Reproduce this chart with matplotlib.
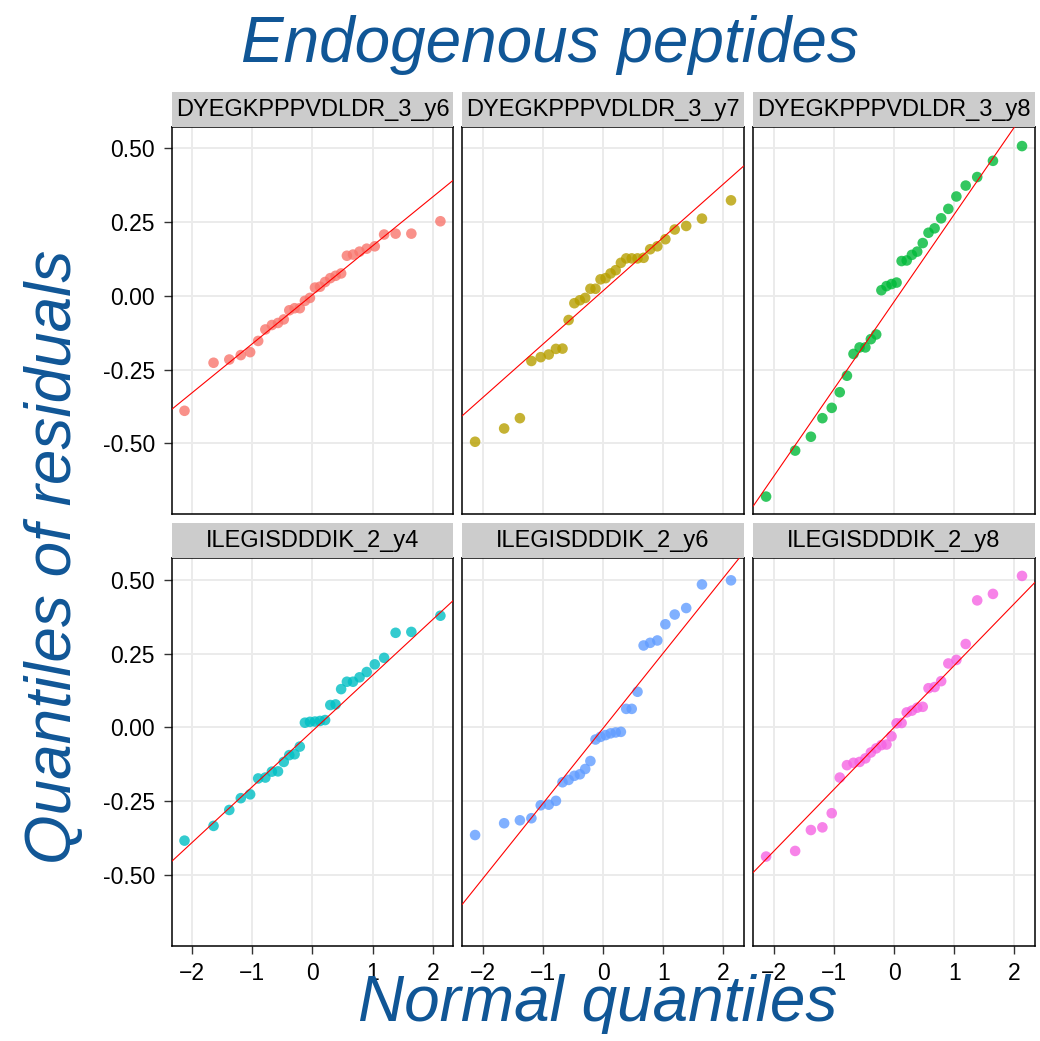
#!/usr/bin/env python

from statistics import NormalDist
import numpy as np
import matplotlib
matplotlib.use('Agg')
import matplotlib.pyplot as plt
import matplotlib.ticker as ticker

plt.rcParams['font.family'] = ['Liberation Sans', 'DejaVu Sans']

# residual quantiles per transition (sorted), 30 runs each
transitions = ['DYEGKPPPVDLDR_3_y6', 'DYEGKPPPVDLDR_3_y7', 'DYEGKPPPVDLDR_3_y8',
               'ILEGISDDDIK_2_y4', 'ILEGISDDDIK_2_y6', 'ILEGISDDDIK_2_y8']

dyeg_y6 = [-0.390, -0.227, -0.216, -0.201, -0.191, -0.153, -0.114, -0.099,
           -0.092, -0.080, -0.049, -0.042, -0.042, -0.017, -0.007, 0.028,
           0.031, 0.047, 0.060, 0.068, 0.076, 0.136, 0.140, 0.150, 0.160,
           0.168, 0.208, 0.211, 0.211, 0.253]
dyeg_y7 = [-0.495, -0.450, -0.415, -0.221, -0.208, -0.199, -0.180, -0.179,
           -0.082, -0.025, -0.015, -0.007, 0.024, 0.024, 0.056, 0.060,
           0.076, 0.087, 0.112, 0.127, 0.127, 0.127, 0.129, 0.158, 0.168,
           0.192, 0.225, 0.237, 0.262, 0.324]
dyeg_y8 = [-0.681, -0.525, -0.478, -0.415, -0.380, -0.327, -0.271, -0.197,
           -0.175, -0.175, -0.147, -0.131, 0.019, 0.033, 0.040, 0.045,
           0.118, 0.120, 0.139, 0.150, 0.179, 0.214, 0.229, 0.263, 0.295,
           0.337, 0.374, 0.403, 0.458, 0.508]
ileg_y4 = [-0.384, -0.334, -0.280, -0.240, -0.227, -0.173, -0.170, -0.150,
           -0.149, -0.117, -0.094, -0.091, -0.065, 0.016, 0.019, 0.020,
           0.022, 0.025, 0.076, 0.078, 0.130, 0.155, 0.155, 0.170, 0.188,
           0.214, 0.236, 0.321, 0.324, 0.379]
ileg_y6 = [-0.365, -0.325, -0.315, -0.308, -0.264, -0.262, -0.249, -0.186,
           -0.178, -0.164, -0.159, -0.141, -0.114, -0.041, -0.032, -0.026,
           -0.020, -0.017, -0.015, 0.063, 0.063, 0.121, 0.278, 0.287, 0.295,
           0.350, 0.383, 0.405, 0.485, 0.499]
ileg_y8 = [-0.438, -0.419, -0.348, -0.339, -0.291, -0.170, -0.128, -0.120,
           -0.117, -0.105, -0.085, -0.071, -0.060, -0.058, -0.030, 0.014,
           0.015, 0.051, 0.057, 0.067, 0.070, 0.133, 0.137, 0.157, 0.217,
           0.229, 0.283, 0.431, 0.453, 0.514]

# reference lines (intercept, slope) for each panel
line_intercepts = [0.0035, 0.017, -0.020, -0.012, -0.003, 0.000]
line_slopes = [0.166, 0.181, 0.296, 0.189, 0.255, 0.210]

colors = ['#F8766D', '#B79F00', '#00BA38', '#00BFC4', '#619CFF', '#F564E3']
x_ticks = [-2, -1, 0, 1, 2]
y_ticks = [-0.50, -0.25, 0.00, 0.25, 0.50]

samples = [dyeg_y6, dyeg_y7, dyeg_y8, ileg_y4, ileg_y6, ileg_y8]

title_blue = '#105696'
W, H = 1040, 1041


def normal_quantiles(n):
    a = 3.0 / 8 if n <= 10 else 0.5
    nd = NormalDist()
    return np.array([nd.inv_cdf((i - a) / (n + 1 - 2 * a))
                     for i in range(1, n + 1)])


def px_box(left, top, width, height):
    return [left / W, 1 - (top + height) / H, width / W, height / H]


def expanded(lo, hi, frac=0.05):
    pad = (hi - lo) * frac
    return lo - pad, hi + pad


fig = plt.figure(figsize=(W / 100.0, H / 100.0), dpi=100)

col_left = [171.7, 462.3, 753.3]
row_top = [126.7, 558.3]
panel_w, panel_h, strip_h = 281.5, 387.5, 35

all_x = np.concatenate([normal_quantiles(len(s)) for s in samples])
all_y = np.concatenate(samples)
xlim = expanded(all_x.min(), all_x.max())
ylim = expanded(all_y.min(), all_y.max())

for k, (name, ys) in enumerate(zip(transitions, samples)):
    r, c = divmod(k, 3)
    ax = fig.add_axes(px_box(col_left[c], row_top[r], panel_w, panel_h))
    xs = normal_quantiles(len(ys))

    ax.set_axisbelow(True)
    ax.grid(True, color='#EBEBEB', linewidth=1.4)
    ax.scatter(xs, ys, s=58, color=colors[k], alpha=0.8,
               edgecolors='none', zorder=2)
    ax.axline((0, line_intercepts[k]), slope=line_slopes[k],
              color='red', linewidth=0.8, zorder=3)

    ax.set_xlim(*xlim)
    ax.set_ylim(*ylim)
    ax.set_xticks(x_ticks)
    ax.set_yticks(y_ticks)
    ax.yaxis.set_major_formatter(ticker.FuncFormatter(lambda v, p: '%.2f' % v))
    ax.tick_params(length=6, width=1.0, color='#333333', pad=6,
                   labelsize=16.5, labelcolor='black')
    if c != 0:
        ax.tick_params(axis='y', length=0, labelleft=False)
    if r == 0:
        ax.tick_params(axis='x', length=0, labelbottom=False)
    for sp in ax.spines.values():
        sp.set_color('black')
        sp.set_linewidth(1.1)

    # facet strip
    sax = fig.add_axes(px_box(col_left[c], row_top[r] - strip_h,
                              panel_w, strip_h))
    sax.set_facecolor('#CCCCCC')
    sax.set_xticks([])
    sax.set_yticks([])
    for sp in sax.spines.values():
        sp.set_visible(False)
    sax.text(0.5, 0.48, name, ha='center', va='center', fontsize=17,
             color='black', transform=sax.transAxes)

fig.text(550 / W, 1 - 62 / H, 'Endogenous peptides', ha='center',
         va='baseline', fontsize=46, style='italic', color=title_blue)
fig.text(598 / W, 1 - 1021 / H, 'Normal quantiles', ha='center',
         va='baseline', fontsize=46, style='italic', color=title_blue)
fig.text(54 / W, 1 - 557 / H, 'Quantiles of residuals', ha='center',
         va='center', rotation=90, fontsize=46, style='italic',
         color=title_blue)

fig.savefig('out.png', dpi=100)
plt.close('all')
